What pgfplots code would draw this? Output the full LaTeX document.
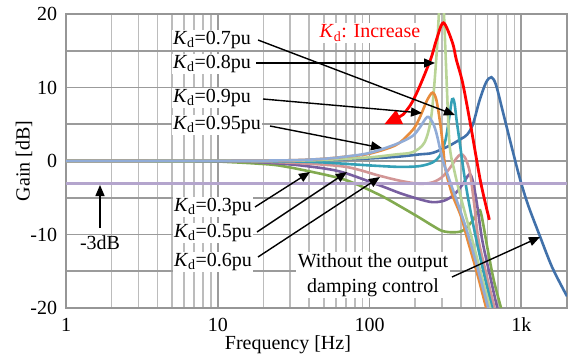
\documentclass[border=0pt]{standalone}
\usepackage{pgfplots}
\pgfplotsset{compat=1.18}
\usepackage{fontspec}
\setmainfont{Liberation Serif}
\usetikzlibrary{arrows.meta}
\definecolor{cblue}{RGB}{65,113,170}
\definecolor{cgreen}{RGB}{130,170,80}
\definecolor{cpurple}{RGB}{120,95,160}
\definecolor{crose}{RGB}{210,150,150}
\definecolor{cteal}{RGB}{52,160,182}
\definecolor{clgreen}{RGB}{185,212,150}
\definecolor{corange}{RGB}{232,140,60}
\definecolor{clblue}{RGB}{145,172,215}
\definecolor{clav}{RGB}{180,165,205}
\definecolor{gridmaj}{RGB}{155,155,155}
\definecolor{gridmin}{RGB}{188,188,188}
\definecolor{axisgray}{RGB}{150,150,150}
\begin{document}
\fontsize{20bp}{25bp}\selectfont
\begin{tikzpicture}[
  arr/.style={-{Triangle[length=11bp,width=9bp]}, line width=1.4bp, black},
  lab/.style={fill=white, inner sep=1.5bp}]
\begin{axis}[
  at={(66bp,-14bp)}, anchor=north west,
  scale only axis, width=501bp, height=294bp,
  xmode=log, xmin=1, xmax=2000, ymin=-20, ymax=20,
  xtick={1,10,100,1000}, xticklabels={1,10,100,1k},
  minor xtick={2,3,4,5,6,7,8,9,20,30,40,50,60,70,80,90,200,300,400,500,600,700,800,900,2000},
  ytick={-20,-15,...,20}, yticklabels={-20,,-10,,0,,10,,20},
  grid=both,
  major grid style={line width=1.8bp, color=gridmaj},
  minor grid style={line width=1.6bp, color=gridmin},
  major tick length=0pt, minor tick length=0pt,
  axis line style={line width=1.8bp, color=axisgray},
  ticklabel style={font=\fontsize{20bp}{24bp}\selectfont},
  xticklabel style={yshift=-3bp},
  yticklabel style={xshift=-2bp},
  xlabel={Frequency [Hz]}, ylabel={Gain [dB]},
  label style={font=\fontsize{20bp}{24bp}\selectfont},
  every axis x label/.style={at={(axis description cs:0.443,-0.126)}, anchor=center},
  every axis y label/.style={at={(axis description cs:-0.0838,0.5)}, rotate=90, anchor=center},
  every axis plot/.append style={line width=2.6bp, smooth},
]
% without output damping control
\addplot[cblue] coordinates {(1,0) (10,0) (30,0.05) (50,0.15) (100,0.35) (157,0.6) (213,0.9) (260,1.1) (330,2.0) (400,3.0) (440,3.6) (480,5.0) (530,8.2) (586,10.7) (635,11.4) (680,10.4) (750,7.0) (850,2.5) (970,-2.1) (1100,-5.8) (1313,-10) (1600,-14.5) (2000,-18.4)};
% Kd = 0.3
\addplot[cgreen] coordinates {(1,0) (8,-0.05) (12,-0.15) (18,-0.35) (25,-0.6) (40,-1.4) (70,-2.6) (116,-4.6) (160,-6.2) (213,-7.7) (260,-8.8) (300,-9.5) (349,-9.7) (409,-9.5) (475,-8.2) (510,-7.0) (535,-6.7) (560,-8.5) (600,-12) (660,-16.3) (735,-20) (800,-23)};
% Kd = 0.5
\addplot[cpurple] coordinates {(1,0) (10,-0.03) (20,-0.2) (35,-0.6) (63,-1.4) (116,-3.3) (160,-4.4) (213,-5.2) (260,-5.6) (310,-5.4) (360,-4.6) (410,-3.2) (455,-1.8) (480,-2.8) (510,-5.8) (552,-10.7) (620,-15.5) (695,-20) (760,-23)};
% Kd = 0.6
\addplot[crose] coordinates {(1,0) (10,-0.02) (20,-0.1) (35,-0.3) (70,-0.8) (116,-2.0) (160,-2.7) (213,-3.1) (260,-2.9) (300,-2.2) (340,-0.9) (375,0.4) (400,0.9) (425,0.5) (458,-1.5) (490,-6) (522,-10.7) (590,-15.5) (666,-20) (720,-23)};
% Kd = 0.7
\addplot[cteal] coordinates {(1,0) (10,0) (30,-0.05) (50,-0.2) (100,-0.6) (157,-0.8) (213,-0.7) (260,-0.2) (290,0.7) (317,2.9) (336,6.1) (350,8.4) (362,8.0) (375,5.5) (390,3.0) (405,0.5) (420,-1.8) (450,-5.5) (505,-10.7) (570,-15.5) (643,-20) (700,-23)};
% Kd = 0.8
\addplot[clgreen] coordinates {(1,0) (10,0.01) (30,0.05) (50,0.15) (100,0.5) (150,0.9) (192,1.2) (230,2.5) (255,6) (275,13.8) (288,21) (298,27) (308,21) (318,13.8) (336,2.5) (361,-1.2) (400,-5) (475,-10.7) (545,-15.5) (624,-20) (680,-23)};
% Kd = 0.9
\addplot[corange] coordinates {(1,0) (10,0.02) (30,0.1) (50,0.3) (70,0.6) (100,1.0) (150,2.2) (192,4.2) (213,5.8) (240,8.3) (260,9.3) (275,8.4) (290,5.6) (303,2.5) (317,-1.2) (350,-4.5) (400,-7.5) (442,-10.7) (515,-15.5) (587,-20) (640,-23)};
% Kd = 0.95
\addplot[clblue] coordinates {(1,0) (10,0.02) (30,0.1) (50,0.3) (70,0.6) (100,1.1) (150,2.3) (192,3.4) (215,4.6) (240,6.0) (258,5.4) (275,3.9) (303,0.2) (335,-2.5) (400,-7) (456,-10.7) (530,-15.5) (605,-20) (660,-23)};
% -3 dB line
\addplot[clav, line width=3bp, sharp plot] coordinates {(1,-3) (2000,-3)};
% K_d increase arrow
\addplot[red, line width=2.8bp, {Triangle[length=17bp,width=15bp]}-] coordinates {(125,5.0) (183,7.4) (248,13.4) (276,16.5) (307,18.8) (352,16.1) (373,13.8) (411,10.6) (465,4.7) (540,-2.9) (616,-8)};
\end{axis}
\begin{scope}[x=1bp, y=-1bp]
\draw[arr] (258,40) -- (455,115);
\draw[arr] (256,63) -- (435,63);
\draw[arr] (263,99) -- (422,113);
\draw[arr] (270,126) -- (382,148);
\draw[arr] (255,207) -- (310,172);
\draw[arr] (257,232) -- (347,172);
\draw[arr] (258,257) -- (380,177);
\draw[arr] (100,228) -- (100,185);
\draw[arr] (452,277) -- (540,237);
\node[lab] at (212,40) {\textit{K}\textsubscript{d}=0.7pu};
\node[lab] at (212,64) {\textit{K}\textsubscript{d}=0.8pu};
\node[lab] at (212,98) {\textit{K}\textsubscript{d}=0.9pu};
\node[lab] at (217,125) {\textit{K}\textsubscript{d}=0.95pu};
\node[lab] at (213,207) {\textit{K}\textsubscript{d}=0.3pu};
\node[lab] at (213,233) {\textit{K}\textsubscript{d}=0.5pu};
\node[lab] at (213,262) {\textit{K}\textsubscript{d}=0.6pu};
\node[lab, text=red] at (370,33) {\textit{K}\textsubscript{d}: Increase};
\node[inner sep=0pt] at (100,243) {-3dB};
\node[lab, align=center] at (373,275) {Without the output\\damping control};
\end{scope}
\pgfresetboundingbox
\path (0,0) rectangle (572bp,-362bp);
\end{tikzpicture}
\end{document}
